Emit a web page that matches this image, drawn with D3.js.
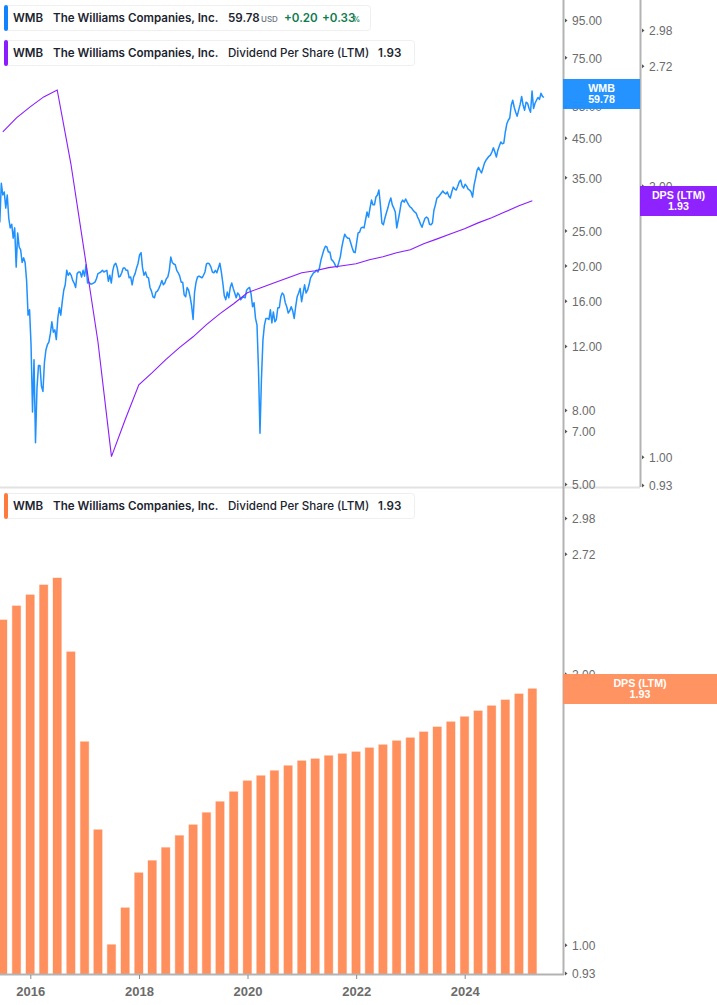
<!DOCTYPE html>
<html>
<head>
<meta charset="utf-8">
<script src="https://cdn.jsdelivr.net/npm/d3@7"></script>
<style>
  html, body { margin: 0; padding: 0; background: #fff; }
  svg { display: block; }
  .tick text { font-family: "Liberation Sans", Arial, sans-serif; fill: #6b6b6b; }
  .legend text { font-family: Inter, sans-serif; fill: #1c2430; font-size: 11.6px; font-weight: 600; }
  .tag text { font-family: "Liberation Sans", Arial, sans-serif; fill: #fff; font-size: 10.7px; font-weight: 700; text-anchor: middle; }
</style>
</head>
<body>
<svg id="chart" width="717" height="1005"></svg>
<script>
// WMB close, one reading every 10 days from priceStart
var priceStart = "2015-06-10"
var priceStepDays = 10
var prices = [
  26.3,33.7,31.3,31.9,28.8,31.3,27.0,25.4,26.0,23.8,
  25.4,19.8,24.6,22.5,22.1,20.4,21.0,20.4,18.2,14.6,
  15.1,12.1,7.9,11.0,6.5,9.2,10.6,10.6,9.3,9.0,
  10.8,11.7,12.1,12.3,13.0,14.0,13.1,13.3,12.5,14.3,
  15.3,14.6,15.9,17.1,17.7,19.4,18.8,19.1,18.8,18.2,
  17.9,17.4,19.0,19.2,19.2,18.6,19.4,18.7,20.1,17.9,
  18.0,17.8,17.8,17.9,18.0,18.4,19.0,19.1,19.2,19.4,
  19.2,19.3,19.4,18.1,18.8,17.9,19.4,20.1,20.3,19.7,
  18.6,18.7,19.1,19.7,19.7,19.4,19.4,18.5,18.6,17.7,
  18.6,19.0,19.7,20.3,21.4,21.7,19.7,18.8,19.2,18.6,
  18.5,17.4,17.0,16.4,16.3,16.9,17.0,17.3,17.7,18.2,
  17.7,17.9,18.4,18.6,19.4,21.1,20.4,20.2,20.1,19.4,
  19.1,18.7,18.0,18.0,16.6,16.4,17.4,17.1,16.4,15.5,
  14.2,16.9,18.0,18.6,18.7,18.6,18.5,18.8,19.2,20.2,
  20.3,20.2,19.8,19.2,19.1,19.4,19.1,19.7,20.3,19.2,
  17.9,16.5,16.1,16.9,16.3,17.4,17.9,17.3,16.8,16.3,
  16.8,16.6,16.1,16.3,16.4,16.3,17.1,17.3,17.4,16.7,
  15.4,15.8,14.3,13.7,10.3,6.9,9.8,12.5,13.7,14.3,
  14.3,14.2,15.1,13.9,14.9,14.0,14.2,15.3,15.3,16.4,
  16.8,16.6,15.8,15.4,14.8,15.0,15.4,15.0,14.3,15.4,
  16.4,16.8,17.3,15.9,16.8,17.7,16.8,17.1,17.7,18.5,
  18.8,19.1,19.2,19.4,19.2,19.7,20.7,21.4,22.1,22.6,
  22.5,21.8,21.8,20.8,20.6,20.3,19.9,19.8,20.4,21.1,
  22.4,23.5,24.4,24.0,23.8,23.8,23.1,22.4,21.8,21.7,
  23.1,24.6,24.7,25.4,25.5,25.4,26.7,28.1,27.2,28.8,
  30.3,29.4,29.4,30.9,31.3,32.3,29.4,26.2,25.9,27.0,
  27.9,28.8,29.9,30.7,29.4,28.8,28.1,25.4,26.7,28.1,
  29.8,30.3,29.9,30.5,29.9,29.4,29.0,28.8,28.4,28.1,
  27.9,27.2,26.7,26.0,25.5,26.3,27.0,27.2,27.0,26.0,
  25.9,26.2,28.4,29.4,30.7,30.9,31.3,31.7,32.1,31.7,
  31.5,31.9,31.1,30.7,31.9,32.9,32.5,32.3,33.1,34.0,
  34.4,33.1,32.7,33.5,33.1,32.5,32.3,31.9,30.9,33.3,
  34.8,36.6,37.3,36.6,36.0,37.1,38.3,39.0,39.5,40.0,
  40.3,41.1,42.2,41.1,39.8,41.6,42.7,43.8,43.3,43.5,
  46.6,49.1,50.3,51.0,55.3,57.1,54.6,52.9,51.6,53.6,
  55.6,58.5,55.3,53.6,56.4,56.0,54.2,52.9,60.5,54.2,
  56.0,57.1,58.1,57.4,59.7,58.5,58.1
]

// dividend per share (LTM), quarterly
var dpsQuarters = [
  "2015-06-30","2015-09-30","2015-12-31","2016-03-31","2016-06-30","2016-09-30","2016-12-31","2017-03-31",
  "2017-06-30","2017-09-30","2017-12-31","2018-03-31","2018-06-30","2018-09-30","2018-12-31","2019-03-31",
  "2019-06-30","2019-09-30","2019-12-31","2020-03-31","2020-06-30","2020-09-30","2020-12-31","2021-03-31",
  "2021-06-30","2021-09-30","2021-12-31","2022-03-31","2022-06-30","2022-09-30","2022-12-31","2023-03-31",
  "2023-06-30","2023-09-30","2023-12-31","2024-03-31","2024-06-30","2024-09-30","2024-12-31","2025-03-31"
]
var dps = [
  2.296,2.380,2.448,2.511,2.556,2.116,1.681,1.342,
  1.000,1.099,1.202,1.240,1.282,1.322,1.359,1.402,
  1.442,1.479,1.521,1.541,1.561,1.581,1.601,1.609,
  1.622,1.630,1.638,1.655,1.668,1.685,1.698,1.724,
  1.746,1.769,1.792,1.819,1.843,1.871,1.900,1.925
]

var priceTicks = [5,7,8,12,16,20,25,35,45,55,75,95]
var dpsTicks = [0.93,1,2,2.72,2.98]
var yearTicks = ["2016-01-01","2018-01-01","2020-01-01","2022-01-01","2024-01-01"]

var BLUE = "#1e90ff", PURPLE = "#8b1cff", ORANGE = "#ff8f5c"
var parse = d3.utcParse("%Y-%m-%d")

var svg = d3.select("#chart")
var x = d3.scaleUtc().domain([parse("2016-01-01"), parse("2024-01-01")]).range([30.3, 464.7])
var yPrice = d3.scaleLog().domain([5, 95]).range([484, 20])
var yDpsTop = d3.scaleLog().domain([0.93, 2.98]).range([485, 30])
var yDps = d3.scaleLog().domain([0.93, 2.98]).range([973, 518])

var priceSeries = prices.map(function(p, i) {
  return { date: d3.utcDay.offset(parse(priceStart), i * priceStepDays), value: p }
})
var dpsSeries = dps.map(function(v, i) {
  return { date: parse(dpsQuarters[i]), value: v }
})

svg.append("clipPath").attr("id", "topClip")
  .append("rect").attr("width", 563).attr("height", 487)
svg.append("clipPath").attr("id", "lowClip")
  .append("rect").attr("y", 489).attr("width", 563).attr("height", 485)

// panel divider
svg.append("line").attr("x1", 0).attr("x2", 640).attr("y1", 487.5).attr("y2", 487.5)
  .attr("stroke", "#e2e2e2").attr("stroke-width", 2)

// top panel lines
var topPlot = svg.append("g").attr("clip-path", "url(#topClip)")
topPlot.append("path").datum(priceSeries)
  .attr("fill", "none").attr("stroke", BLUE).attr("stroke-width", 1.5).attr("stroke-linejoin", "round")
  .attr("d", d3.line().x(function(d) { return x(d.date) }).y(function(d) { return yPrice(d.value) }))
topPlot.append("path").datum(dpsSeries)
  .attr("fill", "none").attr("stroke", PURPLE).attr("stroke-width", 1.1)
  .attr("d", d3.line().x(function(d) { return x(d.date) }).y(function(d) { return yDpsTop(d.value) }))

// bottom panel bars
svg.append("g").attr("clip-path", "url(#lowClip)").selectAll("rect").data(dpsSeries).join("rect")
  .attr("x", function(d) { return x(d.date) - 4.2 })
  .attr("width", 8.4)
  .attr("y", function(d) { return yDps(d.value) })
  .attr("height", function(d) { return 974 - yDps(d.value) })
  .attr("fill", ORANGE)
  .attr("stroke", "rgba(255,143,92,0.35)").attr("stroke-width", 1)

// axes
function valueAxis(scale, ticks, left) {
  var g = svg.append("g").attr("transform", "translate(" + left + ",0)")
    .call(d3.axisRight(scale).tickValues(ticks).tickFormat(d3.format(".2f")).tickSize(0).tickPadding(8))
  g.select(".domain").remove()
  g.selectAll(".tick text").attr("font-size", 12).attr("dy", "0.4em")
  g.selectAll(".tick").append("path").attr("d", "M1,-2L3.5,0L1,2Z").attr("fill", "#555")
}
valueAxis(yPrice, priceTicks, 564)
valueAxis(yDpsTop, dpsTicks, 641)
valueAxis(yDps, dpsTicks, 564)

function rule(x1, y1, x2, y2) {
  svg.append("line").attr("x1", x1).attr("y1", y1).attr("x2", x2).attr("y2", y2)
    .attr("stroke", "#b3b3b3").attr("stroke-width", 2)
}
rule(563.5, 0, 563.5, 975)
rule(640.5, 0, 640.5, 487)
rule(0, 974.5, 564, 974.5)

var xAxis = svg.append("g").attr("transform", "translate(0,975)")
  .call(d3.axisBottom(x).tickValues(yearTicks.map(parse)).tickFormat(d3.utcFormat("%Y")).tickSize(4).tickPadding(7.5))
xAxis.select(".domain").remove()
xAxis.selectAll(".tick line").attr("stroke", "#8a8a8a")
xAxis.selectAll(".tick text").attr("font-size", 13).attr("font-weight", 700).attr("fill", "#6b6b6b")

// value tags on the axes
function tag(left, width, top, color, lines) {
  var g = svg.append("g").attr("class", "tag")
  g.append("rect").attr("x", left).attr("y", top).attr("width", width).attr("height", 30)
    .attr("fill", color).attr("fill-opacity", 0.97)
  g.append("text").attr("x", left + width / 2).attr("y", top + 13).text(lines[0])
  g.append("text").attr("x", left + width / 2).attr("y", top + 24).text(lines[1])
}
tag(563, 77, 79, BLUE, ["WMB", "59.78"])
tag(640, 77, 186, PURPLE, ["DPS (LTM)", "1.93"])
tag(563, 154, 674, ORANGE, ["DPS (LTM)", "1.93"])

// legend chips
function legend(top, width, color, items) {
  var g = svg.append("g").attr("class", "legend")
  g.append("rect").attr("x", 4.5).attr("y", top + 0.5).attr("width", width).attr("height", 25).attr("rx", 3)
    .attr("fill", "#fff").attr("stroke", "#efefef")
  g.append("rect").attr("x", 4).attr("y", top).attr("width", 4).attr("height", 26).attr("rx", 2).attr("fill", color)
  items.forEach(function(it) {
    g.append("text").attr("x", it.x).attr("y", top + 16.5).text(it.text)
      .style("font-size", it.size || null).style("fill", it.fill || null).style("font-weight", it.weight || null)
  })
}
var nameItems = [{ x: 13, text: "WMB" }, { x: 53, text: "The Williams Companies, Inc." }]
legend(5, 366, "#1283ff", nameItems.concat([
  { x: 228, text: "59.78" },
  { x: 261, text: "USD", size: "8px", fill: "#6b7280", weight: 500 },
  { x: 284, text: "+0.20", fill: "#0f7b4f" },
  { x: 322, text: "+0.33", fill: "#0f7b4f" },
  { x: 353, text: "%", size: "7px", fill: "#0f7b4f" }
]))
var dpsItems = nameItems.concat([
  { x: 228, text: "Dividend Per Share (LTM)", weight: 500 },
  { x: 378, text: "1.93" }
])
legend(40, 410, PURPLE, dpsItems)
legend(493, 410, "#ff7a3d", dpsItems)
</script>
</body>
</html>
